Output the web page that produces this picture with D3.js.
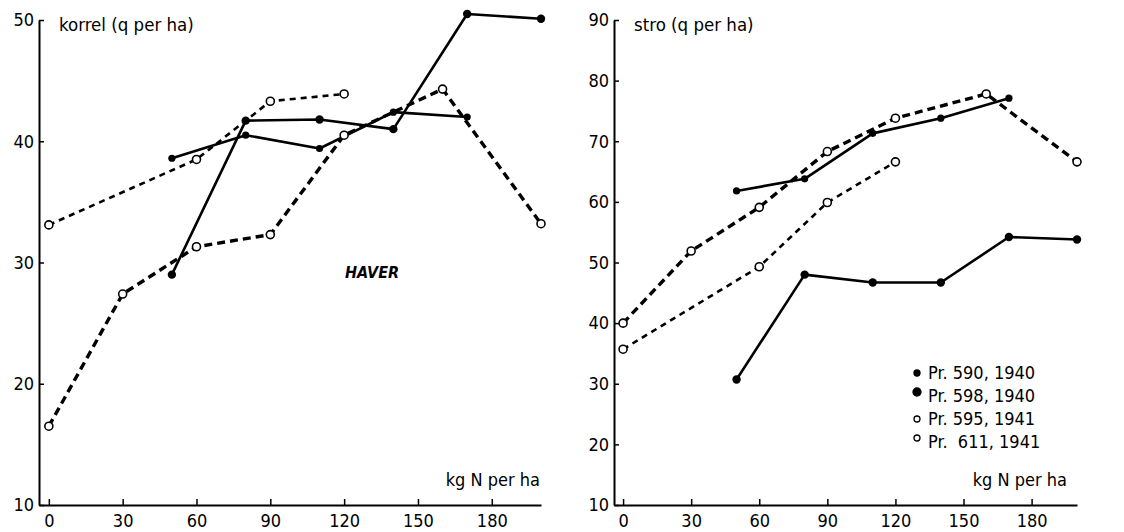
<!DOCTYPE html>
<html><head><meta charset="utf-8">
<script src="https://cdn.jsdelivr.net/npm/d3@7"></script>
<style>
html,body{margin:0;padding:0;background:#fff;}
svg text{font-family:"Liberation Sans Narrow","DejaVu Sans Condensed",sans-serif;fill:#000;}
</style></head><body>
<svg id="c" width="1124" height="532"></svg>
<script>
// ---- data ----
const xTicks = [0, 30, 60, 90, 120, 150, 180];
const korrelTicks = [10, 20, 30, 40, 50];
const stroTicks = [10, 20, 30, 40, 50, 60, 70, 80, 90];

const x590 = [50, 80, 110, 140, 170];
const korrel590 = [38.6, 40.5, 39.4, 42.4, 42.0];
const stro590 = [61.8, 63.8, 71.3, 73.8, 77.1];

const x598 = [50, 80, 110, 140, 170, 200];
const korrel598 = [29.0, 41.7, 41.8, 41.0, 50.5, 50.1];
const stro598 = [30.7, 48.0, 46.7, 46.7, 54.2, 53.8];

const x595 = [0, 30, 60, 90, 120, 160, 200];
const korrel595 = [16.5, 27.4, 31.3, 32.3, 40.5, 44.3, 33.2];
const stro595 = [40.0, 51.9, 59.1, 68.3, 73.8, 77.8, 66.6];

const x611 = [0, 60, 90, 120];
const korrel611 = [33.1, 38.5, 43.3, 43.9];
const stro611 = [35.7, 49.3, 59.9, 66.6];

const legendLabels = ["Pr. 590, 1940", "Pr. 598, 1940", "Pr. 595, 1941", "Pr.  611, 1941"];

// ---- styles ----
const styles = {
  s590: {dash: null, width: 2.6, marker: "filled", r: 3.6},
  s598: {dash: null, width: 2.6, marker: "filled", r: 4.2},
  s595: {dash: "8,5", width: 3.4, marker: "open", r: 4},
  s611: {dash: "6,5", width: 2.6, marker: "open", r: 4}
};

const svg = d3.select("#c");

function panel(opts) {
  const x = d3.scaleLinear().domain([-4, 200]).range(opts.xr);
  const y = d3.scaleLinear().domain(opts.yd).range([505, 20]);
  const g = svg.append("g");

  // x axis
  const xa = g.append("g").attr("transform", "translate(0,505)")
    .call(d3.axisBottom(x).tickValues(xTicks).tickSizeInner(-6).tickSizeOuter(0).tickPadding(7).tickFormat(d3.format("d")));
  xa.select(".domain").attr("stroke", "#000").attr("stroke-width", 2);
  xa.selectAll(".tick line").attr("stroke-width", 1.5);
  xa.selectAll(".tick text").style("font-size", "18px").attr("dy", "0.85em");

  // y axis
  const ya = g.append("g").attr("transform", `translate(${x(-4)},0)`)
    .call(d3.axisLeft(y).tickValues(opts.yTicks).tickSizeInner(-5).tickSizeOuter(0).tickPadding(5).tickFormat(d3.format("d")));
  ya.select(".domain").attr("stroke", "#000").attr("stroke-width", 2);
  ya.selectAll(".tick line").attr("stroke-width", 1.5);
  ya.selectAll(".tick text").style("font-size", "18px");

  // axis titles
  g.append("text").attr("x", x(-4) + 20).attr("y", 31).style("font-size", "18.5px").text(opts.title);
  g.append("text").attr("x", opts.kgEnd).attr("y", 486).attr("text-anchor", "end").style("font-size", "18px").text("kg N per ha");

  // series
  const series = [
    {k: "s590", xs: x590, ys: opts.d590},
    {k: "s598", xs: x598, ys: opts.d598},
    {k: "s595", xs: x595, ys: opts.d595},
    {k: "s611", xs: x611, ys: opts.d611}
  ];
  const line = d3.line().x(d => x(d[0])).y(d => y(d[1]));
  series.forEach(s => {
    const st = styles[s.k];
    const pts = s.xs.map((v, i) => [v, s.ys[i]]);
    g.append("path").datum(pts).attr("d", line)
      .attr("fill", "none").attr("stroke", "#000").attr("stroke-width", st.width)
      .attr("stroke-dasharray", st.dash).attr("stroke-linejoin", "round");
    g.selectAll(null).data(pts).enter().append("circle")
      .attr("cx", d => x(d[0])).attr("cy", d => y(d[1])).attr("r", st.r)
      .attr("fill", st.marker === "filled" ? "#000" : "#fff")
      .attr("stroke", "#000").attr("stroke-width", st.marker === "filled" ? 0 : 1.6);
  });
  return {x, y, g};
}

const L = panel({xr: [39, 541], yd: [10, 50], yTicks: korrelTicks, title: "korrel (q per ha)", kgEnd: 540,
  d590: korrel590, d598: korrel598, d595: korrel595, d611: korrel611});
L.g.append("text").attr("x", 345).attr("y", 278).style("font-size", "16px")
  .style("font-style", "italic").style("font-weight", "bold").text("HAVER");

const R = panel({xr: [614, 1077], yd: [10, 90], yTicks: stroTicks, title: "stro (q per ha)", kgEnd: 1067,
  d590: stro590, d598: stro598, d595: stro595, d611: stro611});

// legend
const lg = svg.append("g").attr("transform", "translate(917,373)");
const legMarks = [
  {r: 3, fill: "#000", dy: 0},
  {r: 4, fill: "#000", dy: -4},
  {r: 3, fill: "#fff", dy: 0},
  {r: 3, fill: "#fff", dy: -4}
];
legendLabels.forEach((t, i) => {
  const m = legMarks[i];
  lg.append("circle").attr("cx", 0).attr("cy", i * 23 + m.dy).attr("r", m.r)
    .attr("fill", m.fill).attr("stroke", "#000").attr("stroke-width", 1.3);
  lg.append("text").attr("x", 11).attr("y", i * 23 + 6).style("font-size", "18px")
    .style("white-space", "pre").text(t);
});
</script>
</body></html>
